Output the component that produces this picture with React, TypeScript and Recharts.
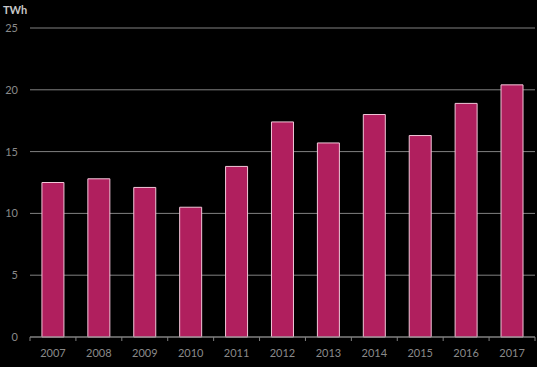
import React from 'react';
import { BarChart, Bar, XAxis, YAxis, CartesianGrid } from 'recharts';

const years = ['2007', '2008', '2009', '2010', '2011', '2012', '2013', '2014', '2015', '2016', '2017'];
const twh = [12.5, 12.8, 12.1, 10.5, 13.8, 17.4, 15.7, 18.0, 16.3, 18.9, 20.4];
const yTicks = [0, 5, 10, 15, 20, 25];

const data = years.map((year, i) => ({ year, twh: twh[i] }));

const W = 537;
const H = 367;
const LEFT = 30;
const RIGHT = 2;
const band = (W - LEFT - RIGHT) / years.length;

const FONT = 'Lato, "Open Sans", sans-serif';

const YearTick = (props: any) => {
  const { x, y, payload, index } = props;
  const left = x - band / 2;
  const right = x + band / 2;
  return (
    <g>
      <line x1={left} x2={left} y1={y} y2={y + 4} stroke="#808080" />
      {index === years.length - 1 && (
        <line x1={right} x2={right} y1={y} y2={y + 4} stroke="#808080" />
      )}
      <text x={x} y={y + 20} textAnchor="middle" fill="#8a8a8a" fontSize={11} fontFamily={FONT}>
        {payload.value}
      </text>
    </g>
  );
};

export default function App() {
  return (
    <div style={{ position: 'fixed', left: 0, top: 0, width: W, height: H, background: '#000' }}>
      <div
        style={{
          position: 'absolute',
          left: 3,
          top: 3,
          color: '#c8c8c8',
          fontSize: 11,
          fontWeight: 'bold',
          fontFamily: FONT,
        }}
      >
        TWh
      </div>
      <BarChart
        width={W}
        height={H}
        data={data}
        margin={{ top: 28, right: RIGHT, left: 0, bottom: 0 }}
        barCategoryGap="26%"
      >
        <CartesianGrid vertical={false} stroke="#808080" />
        <XAxis
          dataKey="year"
          height={30}
          axisLine={{ stroke: '#808080' }}
          tickLine={false}
          tickSize={0}
          tickMargin={0}
          tick={<YearTick />}
          interval={0}
        />
        <YAxis
          width={LEFT}
          domain={[0, 25]}
          ticks={yTicks}
          axisLine={false}
          tickLine={false}
          tickSize={0}
          tickMargin={12}
          tick={{ fill: '#8a8a8a', fontSize: 11, fontFamily: FONT }}
        />
        <Bar dataKey="twh" fill="#b01f5e" stroke="#f2c6d8" strokeWidth={1} isAnimationActive={false} />
      </BarChart>
    </div>
  );
}
